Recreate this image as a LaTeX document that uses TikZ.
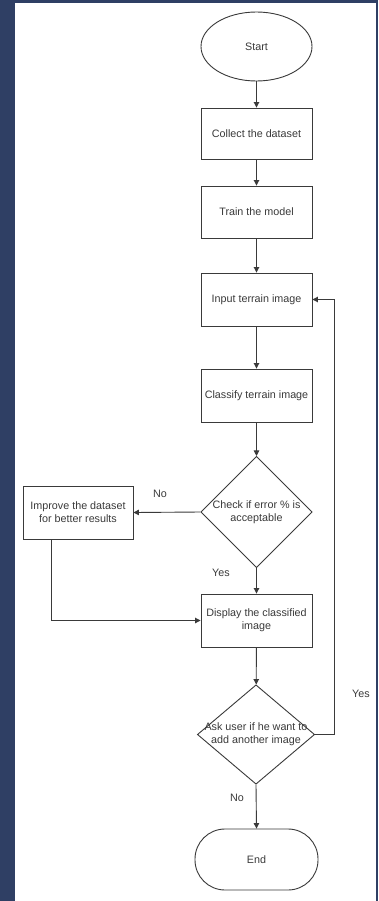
\documentclass[tikz,border=0pt]{standalone}
\usepackage{fontspec}
\setmainfont{Liberation Sans}
\usetikzlibrary{shapes.geometric,arrows.meta}
\definecolor{pageblue}{RGB}{47,63,100}
\definecolor{inkgray}{RGB}{58,58,58}
\tikzset{
  flowline/.style={draw=inkgray, line width=0.9bp, -{Triangle[length=5.5bp,width=5.5bp]}},
  procbox/.style={draw=inkgray, line width=0.9bp, rectangle, minimum width=111bp, minimum height=53bp, align=center, text=inkgray, inner sep=1bp},
  decision/.style={draw=inkgray, line width=0.9bp, diamond, align=center, text=inkgray, inner sep=0bp},
  terminal/.style={draw=inkgray, line width=0.9bp, text=inkgray},
  edgelabel/.style={text=inkgray, inner sep=0.75bp}
}
\begin{document}
\begin{tikzpicture}[x=1bp,y=1bp,yscale=-1,xscale=1,font=\fontsize{10.8}{13.3}\selectfont]
\useasboundingbox (0,0) rectangle (378,901);
\fill[pageblue] (0,0) rectangle (378,901);
\fill[white] (15,3) rectangle (376,901);

%Terminal [id:start]
	\draw (256.5,46.5) node [terminal, ellipse, minimum width=111bp, minimum height=69bp, inner sep=0bp] (start) {Start};
%Shape: Rectangle [id:collect]
	\draw (256.5,133.5) node [procbox, minimum height=51bp] (collect) {Collect the dataset};
%Shape: Rectangle [id:train]
	\draw (256.5,212) node [procbox, minimum height=52bp] (train) {Train the model};
%Shape: Rectangle [id:input]
	\draw (256.5,299.5) node [procbox] (input) {Input terrain image};
%Shape: Rectangle [id:classify]
	\draw (256.5,395.5) node [procbox] (classify) {Classify terrain image};
%Shape: Diamond [id:check]
	\draw (256.5,512) node [decision] (check) {Check if error \% is\\acceptable};
%Shape: Rectangle [id:improve]
	\draw (78,512.5) node [procbox, minimum width=110bp] (improve) {Improve the dataset\\for better results};
%Shape: Rectangle [id:display]
	\draw (256.5,620.5) node [procbox] (display) {Display the classified\\image};
%Shape: Diamond [id:ask]
	\draw (256,734.5) node [decision, inner sep=-3bp, aspect=1.18] (ask) {Ask user if he want to\\add another image};
%Terminal [id:end]
	\draw (256.5,859.5) node [terminal, rectangle, rounded corners=30bp, minimum width=123bp, minimum height=61bp] (end) {End};

%Straight Lines
	\draw [flowline] (start) -- (collect);
	\draw [flowline] (collect) -- (train);
	\draw [flowline] (train) -- (input);
	\draw [flowline] (input) -- (classify);
	\draw [flowline] (classify) -- (check);
	\draw [flowline] (check.west) -- (improve.east);
	\draw [flowline] (check.south) -- (display.north);
	\draw [flowline] ([xshift=-27bp]improve.south) |- (display.west);
	\draw [flowline] (display) -- (ask);
	\draw [flowline] (ask.east) -- ++(19,0) |- (input.east);
	\draw [flowline] (ask.south) -- (end.north);

% Text Node
	\draw (160,494) node [edgelabel] (nolbla) {No};
% Text Node
	\draw (221,573) node [edgelabel] (yeslbla) {Yes};
% Text Node
	\draw (361,694) node [edgelabel] (yeslblb) {Yes};
% Text Node
	\draw (237,798) node [edgelabel] (nolblb) {No};

\end{tikzpicture}
\end{document}
